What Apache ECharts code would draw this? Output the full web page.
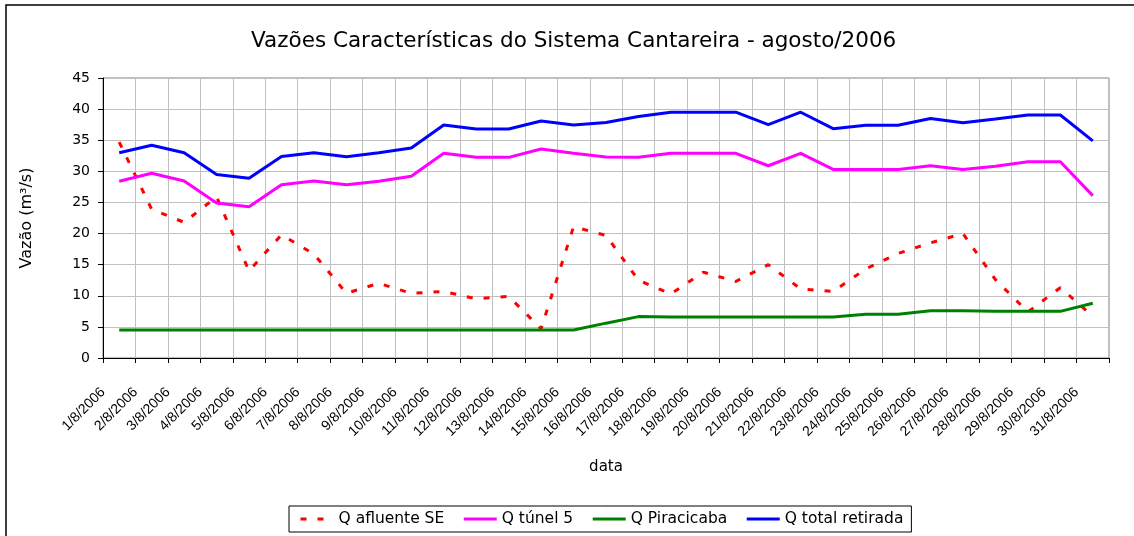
<!DOCTYPE html>
<html>
<head>
<meta charset="utf-8">
<script src="https://cdn.jsdelivr.net/npm/echarts@6/dist/echarts.min.js"></script>
<style>
html,body{margin:0;padding:0;background:#fff;}
#chart{width:1134px;height:536px;}
</style>
</head>
<body>
<div id="chart"></div>
<script>
const dates = ['1/8/2006','2/8/2006','3/8/2006','4/8/2006','5/8/2006','6/8/2006','7/8/2006','8/8/2006','9/8/2006','10/8/2006',
  '11/8/2006','12/8/2006','13/8/2006','14/8/2006','15/8/2006','16/8/2006','17/8/2006','18/8/2006','19/8/2006','20/8/2006',
  '21/8/2006','22/8/2006','23/8/2006','24/8/2006','25/8/2006','26/8/2006','27/8/2006','28/8/2006','29/8/2006','30/8/2006','31/8/2006'];
const qAfluente = [34.7, 23.9, 21.8, 25.9, 14.0, 19.8, 16.7, 10.4, 12.0, 10.4,
  10.7, 9.5, 9.9, 4.7, 21.1, 19.7, 12.5, 10.3, 13.8, 12.3,
  15.0, 11.1, 10.7, 14.3, 16.8, 18.5, 20.0, 12.6, 7.4, 11.3, 6.7];
const qTunel = [28.4, 29.7, 28.45, 24.9, 24.3, 27.85, 28.45, 27.85, 28.4, 29.2,
  32.9, 32.25, 32.25, 33.6, 32.9, 32.3, 32.25, 32.9, 32.9, 32.9,
  30.9, 32.9, 30.3, 30.3, 30.3, 30.9, 30.3, 30.8, 31.55, 31.55, 26.1];
const qPiracicaba = [4.5, 4.5, 4.5, 4.5, 4.5, 4.5, 4.5, 4.5, 4.5, 4.5,
  4.5, 4.5, 4.5, 4.5, 4.5, 5.6, 6.65, 6.6, 6.6, 6.6,
  6.6, 6.6, 6.6, 7.05, 7.05, 7.6, 7.6, 7.5, 7.5, 7.5, 8.8];
const qTotal = [33.0, 34.2, 33.0, 29.5, 28.9, 32.4, 33.0, 32.35, 33.0, 33.75,
  37.45, 36.8, 36.8, 38.1, 37.45, 37.85, 38.8, 39.5, 39.5, 39.5,
  37.5, 39.5, 36.85, 37.4, 37.4, 38.5, 37.8, 38.4, 39.05, 39.05, 34.9];
const seriesNames = ['Q afluente SE', 'Q túnel 5', 'Q Piracicaba', 'Q total retirada'];
const titleText = 'Vazões Características do Sistema Cantareira - agosto/2006';

const FONT = 'DejaVu Sans';
const chart = echarts.init(document.getElementById('chart'), null, {renderer: 'canvas'});
chart.setOption({
  backgroundColor: '#ffffff',
  animation: false,
  title: {
    text: titleText,
    left: 251,
    top: 30,
    padding: 0,
    textStyle: {fontFamily: FONT, fontSize: 21.5, fontWeight: 'normal', color: '#000'}
  },
  graphic: [{
    type: 'rect', silent: true,
    shape: {x: 6, y: 5, width: 1140, height: 540},
    style: {fill: 'none', stroke: '#000', lineWidth: 1.5}
  }],
  legend: {
    data: seriesNames,
    left: 289, top: 506,
    padding: [5, 8, 5, 10],
    itemGap: 18,
    itemWidth: 33, itemHeight: 12,
    borderColor: '#000', borderWidth: 1,
    itemStyle: {opacity: 0},
    lineStyle: {width: 3},
    textStyle: {fontFamily: FONT, fontSize: 15.5, color: '#000'}
  },
  grid: {left: 103, right: 25, top: 78, bottom: 178, show: true, borderColor: '#808080', borderWidth: 1},
  xAxis: [{
    type: 'category',
    data: dates,
    boundaryGap: true,
    name: 'data',
    nameLocation: 'middle',
    nameGap: 102,
    nameTextStyle: {fontFamily: FONT, fontSize: 15, color: '#000'},
    axisLine: {lineStyle: {color: '#000', width: 1}},
    axisTick: {show: true, length: 5, interval: 0, lineStyle: {color: '#000'}},
    axisLabel: {show: false},
    splitLine: {show: true, interval: 0, lineStyle: {color: '#c0c0c0', width: 1}}
  }, {
    type: 'value',
    min: 0, max: 31, interval: 1,
    position: 'bottom',
    axisLine: {show: false},
    axisTick: {show: false},
    splitLine: {show: false},
    axisLabel: {
      rotate: 45, margin: 32,
      fontFamily: 'Liberation Sans', fontSize: 14, color: '#000',
      formatter: function (v) { return dates[v] !== undefined ? dates[v] : ''; }
    }
  }],
  yAxis: {
    type: 'value',
    min: 0, max: 45, interval: 5,
    name: 'Vazão (m³/s)',
    nameLocation: 'middle',
    nameGap: 68,
    nameTextStyle: {fontFamily: FONT, fontSize: 16, color: '#000'},
    axisLine: {show: true, lineStyle: {color: '#000', width: 1}},
    axisTick: {show: true, length: 5, lineStyle: {color: '#000'}},
    axisLabel: {margin: 13, fontFamily: FONT, fontSize: 14, color: '#000'},
    splitLine: {show: true, lineStyle: {color: '#c0c0c0', width: 1}}
  },
  series: [
    {name: seriesNames[0], type: 'line', data: qAfluente, xAxisIndex: 0, symbol: 'none',
     lineStyle: {color: '#ff0000', width: 3, type: [6, 11]}, itemStyle: {color: '#ff0000'}},
    {name: seriesNames[1], type: 'line', data: qTunel, xAxisIndex: 0, symbol: 'none',
     lineStyle: {color: '#ff00ff', width: 3}, itemStyle: {color: '#ff00ff'}},
    {name: seriesNames[2], type: 'line', data: qPiracicaba, xAxisIndex: 0, symbol: 'none',
     lineStyle: {color: '#008000', width: 3}, itemStyle: {color: '#008000'}},
    {name: seriesNames[3], type: 'line', data: qTotal, xAxisIndex: 0, symbol: 'none',
     lineStyle: {color: '#0000ff', width: 3}, itemStyle: {color: '#0000ff'}}
  ]
});
</script>
</body>
</html>
